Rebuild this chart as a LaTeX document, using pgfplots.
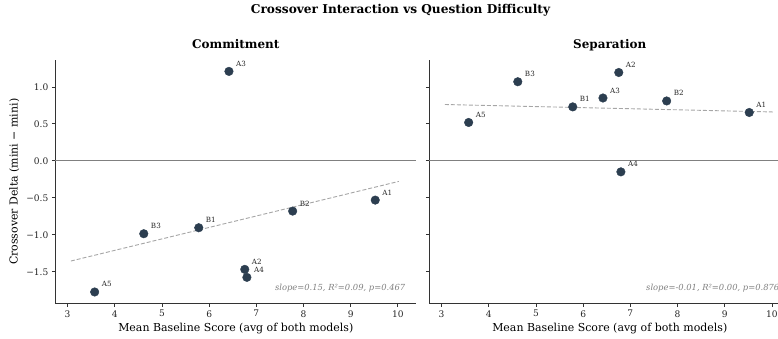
\documentclass[border=0pt]{standalone}
\usepackage{fontspec}
\setmainfont{DejaVu Serif}
\usepackage{pgfplots}
\usepackage{pgfplotstable}
\pgfplotsset{compat=1.18}
\definecolor{pt}{HTML}{2C3E50}
\definecolor{spine}{HTML}{333333}

\pgfplotstableread{
x y label
9.52 -0.531 A1
6.755 -1.468 A2
6.42 1.21 A3
6.80 -1.576 A4
3.574 -1.774 A5
5.78 -0.905 B1
7.77 -0.680 B2
4.615 -0.986 B3
}\commit

\pgfplotstableread{
x y label
9.52 0.654 A1
6.755 1.195 A2
6.42 0.850 A3
6.80 -0.149 A4
3.574 0.519 A5
5.78 0.730 B1
7.77 0.810 B2
4.615 1.070 B3
}\separ

\pgfplotsset{myax/.style={
  scale only axis, width=361bp, height=243bp,
  xmin=2.74, xmax=10.39, ymin=-1.927, ymax=1.36,
  axis x line*=bottom, axis y line*=left,
  axis line style={-, spine, line width=0.8bp},
  xtick={3,4,5,6,7,8,9,10},
  xticklabels={3,4,5,6,7,8,9,10},
  ytick={-1.5,-1,-0.5,0,0.5,1},
  tick align=outside, major tick length=3.5bp,
  tick style={spine, line width=0.8bp},
  ticklabel style={font=\fontsize{9.1}{10}\selectfont, text=black!85},
  xlabel={Mean Baseline Score (avg of both models)},
  xlabel style={font=\fontsize{11}{13}\selectfont, yshift=1bp},
  title style={font=\bfseries\fontsize{12}{14}\selectfont, at={(0.5,1)}, anchor=base, yshift=6bp},
  clip=false,
}}
\pgfplotsset{ptstyle/.style={only marks, mark=*, mark size=4.3bp, color=pt,
  nodes near coords, point meta=explicit symbolic,
  every node near coord/.append style={font=\fontsize{7.2}{8}\selectfont, anchor=base west, inner sep=0pt, xshift=7bp, yshift=5bp, text=black!85}}}

\begin{document}
\begin{tikzpicture}
\useasboundingbox (-55.3bp,-35.7bp) rectangle (722.7bp,303.3bp);
\begin{axis}[myax, at={(0bp,0bp)}, anchor=south west,
  title={Commitment},
  yticklabels={−1.5,−1.0,−0.5,0.0,0.5,1.0},
  ylabel={Crossover Delta (mini − mini)},
  ylabel style={font=\fontsize{11}{13}\selectfont}]
\addplot[color=gray, line width=1.1bp, forget plot] coordinates {(2.74,0) (10.39,0)};
\addplot[color=gray!70, dash pattern=on 4bp off 2bp, line width=0.9bp] coordinates {(3.07,-1.355) (10.02,-0.278)};
\addplot[ptstyle] table[x=x, y=y, meta=label] {\commit};
\node[anchor=south east, inner sep=0pt, font=\itshape\fontsize{8.4}{9}\selectfont, text=gray] at (rel axis cs:0.97,0.045) {slope=0.15, R²=0.09, p=0.467};
\end{axis}
\begin{axis}[myax, at={(374bp,0bp)}, anchor=south west,
  title={Separation},
  yticklabels={}]
\addplot[color=gray, line width=1.1bp, forget plot] coordinates {(2.74,0) (10.39,0)};
\addplot[color=gray!70, dash pattern=on 4bp off 2bp, line width=0.9bp] coordinates {(3.07,0.762) (10.02,0.661)};
\addplot[ptstyle] table[x=x, y=y, meta=label] {\separ};
\node[anchor=south east, inner sep=0pt, font=\itshape\fontsize{8.4}{9}\selectfont, text=gray] at (rel axis cs:0.97,0.045) {slope=-0.01, R²=0.00, p=0.876};
\end{axis}
\node[font=\bfseries\fontsize{12.2}{14}\selectfont, anchor=base] at (345.2bp,289.3bp) {Crossover Interaction vs Question Difficulty};
\end{tikzpicture}
\end{document}
